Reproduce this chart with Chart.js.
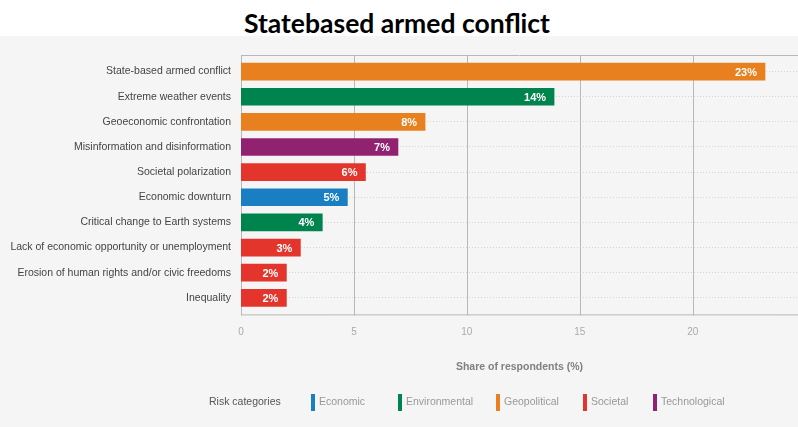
<!DOCTYPE html>
<html lang="en">
<head>
<meta charset="UTF-8">
<title>Statebased armed conflict</title>
<style>
    body {
        margin: 0;
        width: 798px;
        height: 427px;
        overflow: hidden;
        background: #fff;
        font-family: 'Liberation Sans', Arial, sans-serif;
    }
    .head {
        height: 36px;
        text-align: center;
        font-family: Lato, sans-serif;
        font-weight: bold;
        font-size: 26.5px;
        line-height: 46px;
        color: #000;
        padding-right: 4px;
    }
    .panel {
        position: relative;
        height: 391px;
        background: #f5f5f5;
    }
    .legend {
        position: absolute;
        top: 356px;
        left: 0;
        width: 798px;
        height: 18px;
        font-size: 10.5px;
        color: #999;
    }
    .legend span {
        position: absolute;
        top: 0;
        line-height: 18px;
        white-space: nowrap;
    }
    .legend i {
        display: inline-block;
        width: 4px;
        height: 17px;
        vertical-align: middle;
        margin-right: 4px;
    }
</style>
</head>
<body>
<div class="head">Statebased armed conflict</div>
<div class="panel">
    <canvas id="chart"></canvas>
    <div class="legend" id="legend"></div>
</div>
<script src="https://cdn.jsdelivr.net/npm/chart.js"></script>
<script>
const risks = [
    'State-based armed conflict',
    'Extreme weather events',
    'Geoeconomic confrontation',
    'Misinformation and disinformation',
    'Societal polarization',
    'Economic downturn',
    'Critical change to Earth systems',
    'Lack of economic opportunity or unemployment',
    'Erosion of human rights and/or civic freedoms',
    'Inequality'
];
const shares = [23.2, 13.86, 8.15, 6.95, 5.51, 4.71, 3.6, 2.63, 2.01, 2.01];
const riskCategory = ['Geopolitical', 'Environmental', 'Geopolitical', 'Technological', 'Societal',
    'Economic', 'Environmental', 'Societal', 'Societal', 'Societal'];
const categories = ['Economic', 'Environmental', 'Geopolitical', 'Societal', 'Technological'];
const categoryColors = ['#1a7fc2', '#00844e', '#e8801f', '#e4352d', '#902270'];
const xTicks = [0, 5, 10, 15, 20];

// legend (html, positioned like the original)
const legendLeft = [311, 398, 496, 583, 653];
let html = '<span style="left:209px;color:#555">Risk categories</span>';
categories.forEach((c, i) => {
    html += '<span style="left:' + legendLeft[i] + 'px"><i style="background:' + categoryColors[i] + '"></i>' + c + '</span>';
});
document.getElementById('legend').innerHTML = html;

const barColors = riskCategory.map(c => categoryColors[categories.indexOf(c)]);

// frame lines: top, bottom and vertical grid, a bit outside the category band
const framePlugin = {
    id: 'frame',
    beforeDatasetsDraw(chart) {
        const {ctx, chartArea} = chart;
        const x = chart.scales.x;
        const top = chartArea.top - 4, bottom = chartArea.bottom + 4;
        ctx.save();
        ctx.strokeStyle = '#b8b8b8';
        ctx.lineWidth = 1;
        ctx.beginPath();
        ctx.moveTo(chartArea.left, top + 0.5);
        ctx.lineTo(chart.width, top + 0.5);
        ctx.moveTo(chartArea.left, bottom + 0.5);
        ctx.lineTo(chart.width, bottom + 0.5);
        xTicks.forEach(v => {
            const px = Math.round(x.getPixelForValue(v)) + 0.5;
            ctx.moveTo(px, top);
            ctx.lineTo(px, bottom + 1);
        });
        ctx.stroke();
        ctx.restore();
    }
};

// white value labels inside the end of each bar
const valueLabels = {
    id: 'valueLabels',
    afterDatasetsDraw(chart) {
        const {ctx} = chart;
        const meta = chart.getDatasetMeta(0);
        ctx.save();
        ctx.font = 'bold 11px "Liberation Sans", Arial, sans-serif';
        ctx.fillStyle = '#fff';
        ctx.textAlign = 'right';
        ctx.textBaseline = 'middle';
        meta.data.forEach((bar, i) => {
            ctx.fillText(Math.round(shares[i]) + '%', bar.x - 8, bar.y + 1);
        });
        ctx.restore();
    }
};

new Chart(document.getElementById('chart'), {
    type: 'bar',
    data: {
        labels: risks,
        datasets: [{
            data: shares,
            backgroundColor: barColors,
            barThickness: 17
        }]
    },
    options: {
        indexAxis: 'y',
        responsive: true,
        maintainAspectRatio: false,
        animation: false,
        layout: { padding: { top: 23, right: 0, bottom: 36, left: 0 } },
        plugins: {
            legend: { display: false },
            tooltip: { enabled: false }
        },
        scales: {
            x: {
                min: 0,
                max: 24.66,
                afterBuildTicks: axis => { axis.ticks = xTicks.map(v => ({ value: v })); },
                grid: { display: false, drawTicks: false },
                border: { display: false },
                ticks: {
                    padding: 16,
                    color: '#aaa',
                    font: { family: 'Liberation Sans', size: 10 }
                },
                title: {
                    display: true,
                    text: 'Share of respondents (%)',
                    color: '#808080',
                    padding: { top: 6, bottom: 18 },
                    font: { family: 'Liberation Sans', size: 10.5, weight: 'bold' }
                }
            },
            y: {
                afterFit: scale => { scale.width = 241; },
                grid: {
                    offset: false,
                    drawTicks: false,
                    color: '#d4d4d4',
                    lineWidth: 1
                },
                border: { display: false, dash: [1, 2] },
                ticks: {
                    padding: 10,
                    color: '#444',
                    font: { family: 'Liberation Sans', size: 10.5 }
                }
            }
        }
    },
    plugins: [framePlugin, valueLabels]
});
</script>
</body>
</html>
